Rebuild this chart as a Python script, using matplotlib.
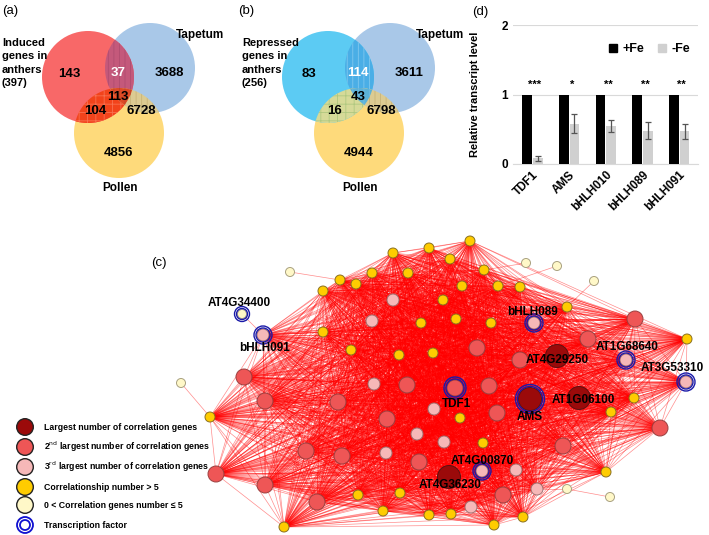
import numpy as np
import matplotlib.pyplot as plt
from matplotlib.patches import Circle, Polygon
from matplotlib.collections import LineCollection
from matplotlib.lines import Line2D

plt.rcParams['font.family'] = ['Liberation Sans', 'DejaVu Sans']
plt.rcParams['hatch.linewidth'] = 0.6

# ---------------- data ----------------
# Venn counts: A only, A&T, T only, A&T&P, A&P, T&P, P only
venn_a_counts = [143, 37, 3688, 113, 104, 6728, 4856]
venn_b_counts = [83, 114, 3611, 43, 16, 6798, 4944]
venn_a_title = 'Induced\ngenes in\nanthers\n(397)'
venn_b_title = 'Repressed\ngenes in\nanthers\n(256)'

# qPCR (d)
genes = ['TDF1', 'AMS', 'bHLH010', 'bHLH089', 'bHLH091']
plus_fe = [1, 1, 1, 1, 1]
minus_fe = [0.08, 0.58, 0.55, 0.48, 0.47]
minus_fe_err = [0.03, 0.14, 0.09, 0.12, 0.11]
signif = ['***', '*', '**', '**', '**']

# network (c): node layout, class, label, transcription factor flag
node_x = [290, 340, 356, 372, 393, 429, 470, 450, 408, 323, 484, 498, 462, 393, 443,
          372, 421, 456, 491, 323, 351, 399, 433, 477, 242, 263, 244, 374, 407, 455,
          489, 526, 557, 594, 520, 567, 635, 534, 588, 687, 626, 520, 557, 686, 579,
          530, 634, 611, 434, 497, 460, 387, 660, 417, 444, 483, 563, 386, 606, 482,
          516, 449, 400, 537, 503, 567, 610, 419, 471, 429, 451, 523, 494, 181, 265,
          338, 210, 306, 342, 216, 265, 317, 358, 383, 284]
node_y = [272, 280, 284, 273, 253, 248, 241, 259, 273, 291, 270, 286, 286, 300, 300,
          321, 323, 319, 323, 332, 350, 355, 353, 348, 314, 335, 377, 384, 385, 388,
          386, 263, 266, 281, 287, 307, 319, 323, 339, 339, 360, 360, 356, 382, 398,
          399, 398, 412, 409, 413, 418, 419, 428, 434, 442, 443, 446, 453, 472, 471,
          470, 477, 493, 489, 495, 489, 497, 462, 507, 515, 514, 517, 525, 383, 401,
          402, 417, 451, 456, 474, 485, 502, 495, 511, 527]
node_cls = ['L', 'Y', 'Y', 'Y', 'Y', 'Y', 'Y', 'Y', 'Y', 'Y', 'Y', 'Y', 'Y', 'P', 'Y',
            'P', 'Y', 'Y', 'Y', 'Y', 'Y', 'Y', 'Y', 'R', 'L', 'P', 'R', 'P', 'R', 'R',
            'R', 'L', 'L', 'L', 'Y', 'Y', 'R', 'P', 'R', 'Y', 'P', 'R', 'D', 'P', 'D',
            'D', 'Y', 'Y', 'P', 'R', 'Y', 'R', 'R', 'P', 'P', 'Y', 'R', 'P', 'Y', 'P',
            'P', 'D', 'Y', 'P', 'R', 'L', 'L', 'R', 'P', 'Y', 'Y', 'Y', 'Y', 'L', 'R',
            'R', 'Y', 'R', 'R', 'R', 'R', 'R', 'Y', 'Y', 'Y']
node_label = {24: 'AT4G34400', 25: 'bHLH091', 37: 'bHLH089', 40: 'AT1G68640',
              43: 'AT3G53310', 42: 'AT4G29250', 29: 'TDF1', 45: 'AMS',
              44: 'AT1G06100', 59: 'AT4G00870', 61: 'AT4G36230'}
tf_nodes = [24, 25, 37, 40, 43, 29, 45, 59]
# weakly connected nodes and their single partner
weak_links = {0: 1, 24: 25, 31: 10, 32: 11, 33: 35, 65: 63, 66: 65, 73: 76}

legend_text = ['Largest number of correlation genes',
               '2$^{\\mathrm{nd}}$ largest number of correlation genes',
               '3$^{\\mathrm{rd}}$ largest number of correlation genes',
               'Correlationship number > 5',
               '0 < Correlation genes number \u2264 5',
               'Transcription factor']

# ---------------- styles ----------------
cls_face = {'D': '#9B0A0A', 'R': '#EE5656', 'P': '#F6B8B8', 'Y': '#FFCC00', 'L': '#FFF8C8'}
cls_edge = {'D': '#5A1010', 'R': '#9A4040', 'P': '#A07070', 'Y': '#8A7020', 'L': '#A8A080'}
cls_rad = {'D': 11.5, 'R': 8, 'P': 6, 'Y': 5, 'L': 4.5}
ring_col = '#1A1AA8'

fig = plt.figure(figsize=(7.09, 5.35), dpi=100)
ax = fig.add_axes([0, 0, 1, 1])
ax.set_xlim(0, 709)
ax.set_ylim(535, 0)
ax.axis('off')


def lens_points(c1, r1, c2, r2, n=400):
    pts = []
    for ca, ra, cb, rb in ((c1, r1, c2, r2), (c2, r2, c1, r1)):
        d = np.arctan2(cb[1] - ca[1], cb[0] - ca[0])
        th = d + np.linspace(-np.pi, np.pi, n)
        xy = np.column_stack([ca[0] + ra * np.cos(th), ca[1] + ra * np.sin(th)])
        inside = np.hypot(xy[:, 0] - cb[0], xy[:, 1] - cb[1]) <= rb
        pts.append(xy[inside])
    return np.vstack(pts)


def venn(x0, counts, title, col_a, cols, hatches, white_idx):
    ca, ra = (x0 + 88, 77), 46
    ct, rt = (x0 + 150, 68), 45
    cp, rp = (x0 + 119, 133), 45
    ax.add_patch(Circle(cp, rp, color=cols['P'], lw=0))
    ax.add_patch(Circle(ct, rt, color=cols['T'], lw=0))
    ax.add_patch(Circle(ca, ra, color=col_a, lw=0))
    for (c1, r1, c2, r2), key in (((ca, ra, ct, rt), 'AT'), ((ca, ra, cp, rp), 'AP'),
                                  ((ct, rt, cp, rp), 'TP')):
        pts = lens_points(c1, r1, c2, r2)
        ax.add_patch(Polygon(pts, closed=True, facecolor=cols[key], lw=0))
        ax.add_patch(Polygon(pts, closed=True, facecolor='none', edgecolor=hatches[key][1],
                             hatch=hatches[key][0], lw=0))
    clip = Circle(cp, rp, transform=ax.transData)
    tri = Polygon(lens_points(ca, ra, ct, rt), closed=True, facecolor=cols['APT'], lw=0)
    ax.add_patch(tri)
    tri.set_clip_path(clip)
    tri_h = Polygon(lens_points(ca, ra, ct, rt), closed=True, facecolor='none',
                    edgecolor=hatches['APT'][1], hatch=hatches['APT'][0], lw=0)
    ax.add_patch(tri_h)
    tri_h.set_clip_path(clip)
    pos = [(69, 74), (118, 73), (169, 73), (118, 97), (95, 111), (141, 111), (119, 153)]
    for k, (v, (px, py)) in enumerate(zip(counts, pos)):
        ax.text(x0 + px, py, str(v), ha='center', va='center', fontsize=9.5,
                fontweight='bold', color='white' if k == white_idx else 'black')
    ax.text(x0 + 2, 63, title, ha='left', va='center', fontsize=8,
            fontweight='bold', linespacing=1.45)
    ax.text(x0 + 176, 35, 'Tapetum', ha='left', va='center', fontsize=8.5, fontweight='bold')
    ax.text(x0 + 120, 188, 'Pollen', ha='center', va='center', fontsize=8.5, fontweight='bold')


venn(0, venn_a_counts, venn_a_title, '#F86868',
     {'T': '#A9C8E8', 'P': '#FEDA7B', 'AT': '#C4597B', 'AP': '#F2431B',
      'TP': '#DCCB92', 'APT': '#DC4A26'},
     {'AT': ('|||', '#B04C70'), 'AP': ('++', '#F87050'), 'TP': ('|||', '#C8B478'),
      'APT': ('|||', '#C04428')}, 1)
venn(240, venn_b_counts, venn_b_title, '#5CCBF3',
     {'T': '#A9C8E8', 'P': '#FEDA7B', 'AT': '#4AAEE6', 'AP': '#D6DA98',
      'TP': '#DCCB92', 'APT': '#5BB2D8'},
     {'AT': ('|||', '#80C8EE'), 'AP': ('++', '#B0C880'), 'TP': ('|||', '#C8B478'),
      'APT': ('|||', '#70BAE0')}, 1)
ax.text(2, 11, '(a)', fontsize=9.5, va='center')
ax.text(238, 11, '(b)', fontsize=9.5, va='center')
ax.text(472, 12, '(d)', fontsize=9.5, va='center')
ax.text(151, 263, '(c)', fontsize=9.5, va='center')

# ---------------- network ----------------
nx = np.array(node_x, float)
ny = np.array(node_y, float)
strong = [i for i, c in enumerate(node_cls) if c != 'L' and i not in weak_links]
segs = []
for a in range(len(strong)):
    for b in range(a + 1, len(strong)):
        i, j = strong[a], strong[b]
        segs.append([(nx[i], ny[i]), (nx[j], ny[j])])
for i, j in weak_links.items():
    segs.append([(nx[i], ny[i]), (nx[j], ny[j])])
ax.add_collection(LineCollection(segs, colors='#FF0000', linewidths=0.5, alpha=0.45, zorder=1))

for i, c in enumerate(node_cls):
    ax.add_patch(Circle((nx[i], ny[i]), cls_rad[c], facecolor=cls_face[c],
                        edgecolor=cls_edge[c], lw=0.7, zorder=3))
for i in tf_nodes:
    r = cls_rad[node_cls[i]]
    for rr in (r + 1.0, r + 3.0):
        ax.add_patch(Circle((nx[i], ny[i]), rr, facecolor='none', edgecolor=ring_col,
                            lw=1.0, zorder=4))

label_off = {'AT4G34400': (-3, -11), 'bHLH091': (2, 13), 'bHLH089': (-1, -11),
             'AT1G68640': (1, -13), 'AT3G53310': (-14, -14), 'AT4G29250': (0, 4),
             'TDF1': (2, 16), 'AMS': (0, 18), 'AT1G06100': (4, 2),
             'AT4G00870': (0, -10), 'AT4G36230': (1, 8)}
for i, lab in node_label.items():
    dx, dy = label_off[lab]
    ax.text(nx[i] + dx, ny[i] + dy, lab, ha='center', va='center', fontsize=8.5,
            fontweight='bold', zorder=5)

# network legend
leg_cls = ['D', 'R', 'P', 'Y', 'L']
leg_y = [427, 447, 467, 487, 505, 525]
for k, txt in enumerate(legend_text):
    y = leg_y[k]
    if k < 5:
        c = leg_cls[k]
        ax.add_patch(Circle((25, y), 8.3, facecolor=cls_face[c], edgecolor='#222222', lw=1.0))
    else:
        for rr in (8.0, 5.0):
            ax.add_patch(Circle((25, y), rr, facecolor='white', edgecolor='#1010D0', lw=1.3))
    ax.text(44, y, txt, ha='left', va='center', fontsize=6.3, fontweight='bold')

# ---------------- (d) bar chart ----------------
bx = fig.add_axes([513 / 709, (535 - 164) / 535, (698 - 513) / 709, (164 - 25) / 535])
xs = np.arange(len(genes))
w = 0.26
bx.bar(xs - 0.145, plus_fe, w, color='black', zorder=3)
bx.bar(xs + 0.145, minus_fe, w, color='#D0D0D0', zorder=3)
bx.errorbar(xs + 0.145, minus_fe, yerr=minus_fe_err, fmt='none', ecolor='#555555',
            elinewidth=0.9, capsize=2.5, capthick=0.9, zorder=4)
for x, s in zip(xs, signif):
    bx.text(x + 0.07, 1.06, s, ha='center', va='bottom', fontsize=8, fontweight='bold')
bx.set_xlim(-0.53, 4.51)
bx.set_ylim(0, 2)
bx.set_yticks([0, 1, 2])
bx.yaxis.grid(True, color='#D9D9D9', lw=0.8)
bx.set_axisbelow(True)
for sp in ('top', 'right', 'left'):
    bx.spines[sp].set_visible(False)
bx.spines['bottom'].set_color('#D9D9D9')
bx.tick_params(length=0, labelsize=8.5)
bx.set_xticks(xs)
bx.set_xticklabels(genes, rotation=45, ha='right', rotation_mode='anchor', fontweight='bold')
for t in bx.get_yticklabels():
    t.set_fontweight('bold')
bx.set_ylabel('Relative transcript level', fontsize=8, fontweight='bold')
bx.yaxis.set_label_coords(-0.18, 0.5)
handles = [Line2D([], [], marker='s', ls='none', color='black', markersize=5.5),
           Line2D([], [], marker='s', ls='none', color='#D0D0D0', markersize=5.5)]
bx.legend(handles, ['+Fe', '-Fe'], loc='upper right', bbox_to_anchor=(1.02, 0.95), ncol=2,
          frameon=False, handlelength=0.8, handletextpad=0.4, columnspacing=1.0,
          prop={'weight': 'bold', 'size': 9})

fig.savefig('out.png', dpi=100, facecolor='white')
